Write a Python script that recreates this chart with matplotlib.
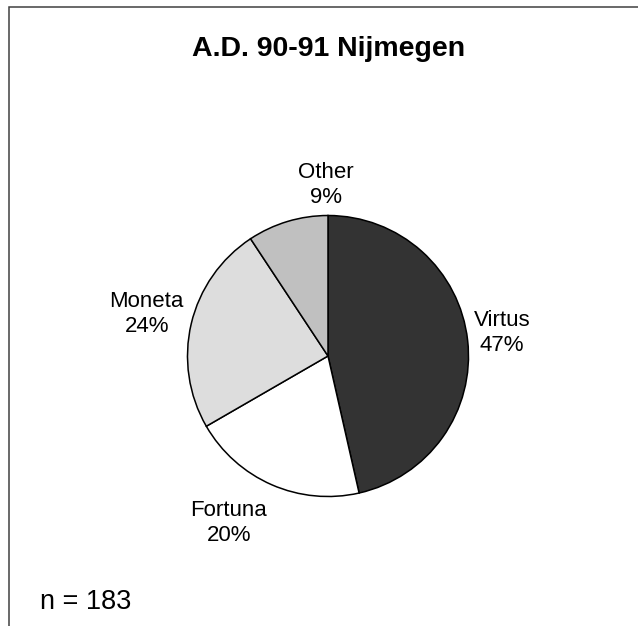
import matplotlib
matplotlib.use("Agg")
import matplotlib.pyplot as plt
import numpy as np
from matplotlib.patches import Rectangle

# ---- data ----
categories = ["Virtus", "Fortuna", "Moneta", "Other"]
counts = [85, 37, 44, 17]              # wedge sizes (n = 183)
percent_labels = [47, 20, 24, 9]       # percentages printed on the chart
title = "A.D. 90-91 Nijmegen"
note = "n = 183"

# ---- styles / layout ----
colors = ["#333333", "#ffffff", "#dddddd", "#c0c0c0"]
label_dist = [1.249, 1.381, 1.324, 1.217]        # radial distance of label centre (x radius)
label_angle_shift = [1.1, -7.1, 0.3, -16.0]      # degrees relative to wedge middle

plt.rcParams['font.family'] = ['Liberation Sans', 'DejaVu Sans']

W, H = 638, 626
fig = plt.figure(figsize=(W / 100, H / 100), dpi=100)

# border
fig.patches.append(Rectangle((9 / W, -0.05), (640 - 9) / W, (H - 7) / H + 0.05,
                             transform=fig.transFigure, fill=False,
                             edgecolor="#404040", linewidth=1.1))

cx, cy, r = 328, 356, 140.5
half = 1.5 * r
ax = fig.add_axes([(cx - half) / W, (H - cy - half) / H, 2 * half / W, 2 * half / H])

wedges, _ = ax.pie(counts, colors=colors, startangle=90, counterclock=False,
                   radius=1.0, wedgeprops=dict(edgecolor="black", linewidth=1.1))
ax.set_xlim(-1.5, 1.5)
ax.set_ylim(-1.5, 1.5)
ax.axis("off")

for w, cat, pct, d, sh in zip(wedges, categories, percent_labels, label_dist, label_angle_shift):
    mid = np.deg2rad((w.theta1 + w.theta2) / 2 + sh)
    ax.text(d * np.cos(mid), d * np.sin(mid), f"{cat}\n{pct}%",
            ha="center", va="center", multialignment="center",
            fontsize=16, linespacing=1.25)

fig.text(329 / W, (H - 56.5) / H, title, ha="center", va="baseline",
         fontsize=20.5, fontweight="bold")
fig.text(40.5 / W, (H - 609) / H, note, ha="left", va="baseline", fontsize=19.5)

fig.savefig("out.png", dpi=100)
